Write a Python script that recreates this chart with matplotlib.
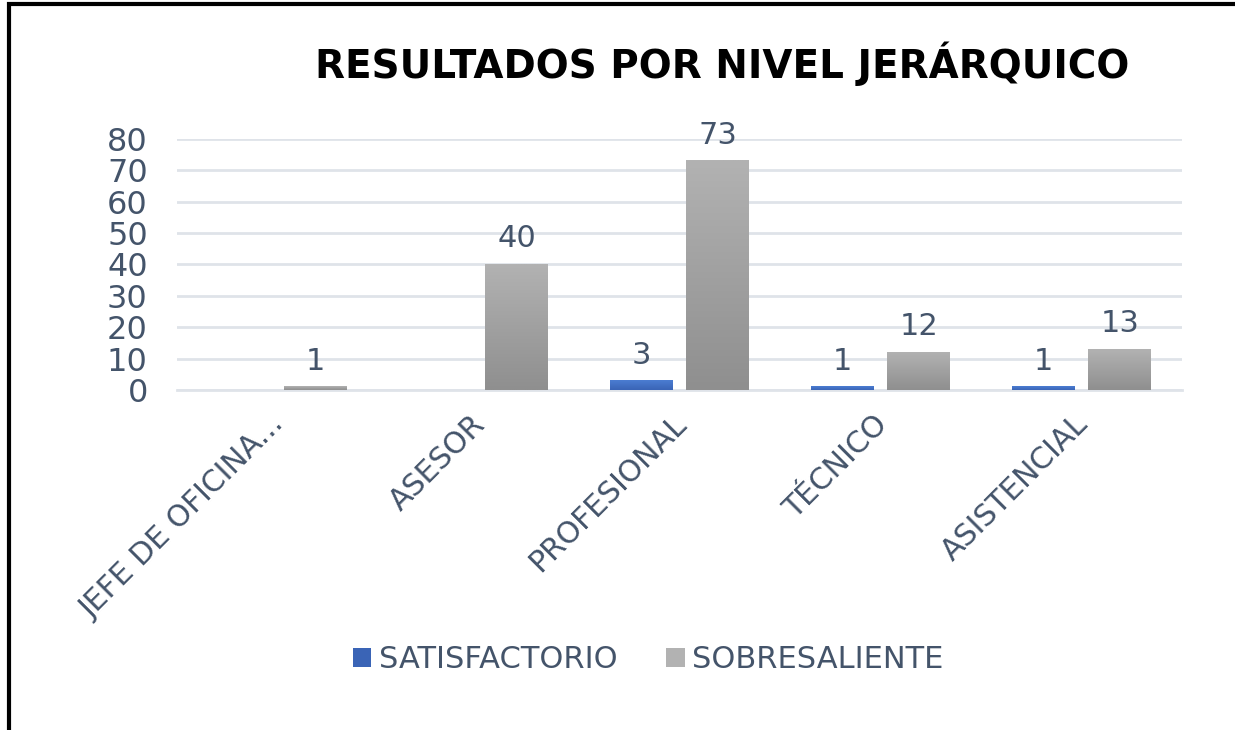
import numpy as np
import matplotlib.pyplot as plt
from matplotlib.patches import Patch

categorias = ['JEFE DE OFICINA...', 'ASESOR', 'PROFESIONAL', 'TÉCNICO', 'ASISTENCIAL']
satisfactorio = [0, 0, 3, 1, 1]
sobresaliente = [1, 40, 73, 12, 13]
series = ['SATISFACTORIO', 'SOBRESALIENTE']

texto = '#44546A'
# colores de degradado (arriba, abajo)
azul = ('#4b7dd2', '#3a64b6')
gris = ('#b2b2b2', '#8f8f8f')

fig = plt.figure(figsize=(12.35, 7.3), dpi=100)
ax = fig.add_axes([0.1433, 0.4658, 0.8138, 0.3438])

x = np.arange(len(categorias))
ancho = 0.313
desp = 0.19


def barra_degradado(ax, xc, h, colores):
    if h <= 0:
        return
    c1 = np.array(plt.matplotlib.colors.to_rgb(colores[0]))
    c2 = np.array(plt.matplotlib.colors.to_rgb(colores[1]))
    t = np.linspace(0, 1, 100)[:, None]
    grad = (c1 * (1 - t) + c2 * t)[:, None, :]
    ax.imshow(grad, extent=(xc - ancho / 2, xc + ancho / 2, 0, h),
              aspect='auto', zorder=3, interpolation='bilinear')


for i in range(len(categorias)):
    barra_degradado(ax, x[i] - desp, satisfactorio[i], azul)
    barra_degradado(ax, x[i] + desp, sobresaliente[i], gris)
    if satisfactorio[i] > 0:
        ax.text(x[i] - desp, satisfactorio[i] + 3.5, str(satisfactorio[i]),
                ha='center', va='bottom', fontsize=22, color=texto)
    ax.text(x[i] + desp, sobresaliente[i] + 3.5, str(sobresaliente[i]),
            ha='center', va='bottom', fontsize=22, color=texto)

ax.set_xlim(-0.5, len(categorias) - 0.5)
ax.set_ylim(0, 80)
ax.set_yticks(range(0, 81, 10))
ax.set_xticks(x - 0.04)
ax.set_xticklabels(categorias, rotation=45, ha='right', rotation_mode='anchor',
                   fontsize=21.5, color=texto)
ax.tick_params(axis='y', labelsize=23, labelcolor=texto, length=0, pad=21)
ax.tick_params(axis='x', length=0, pad=14)
ax.grid(axis='y', color='#dfe3e9', linewidth=2, zorder=0)
ax.set_axisbelow(True)
for s in ['top', 'right', 'left']:
    ax.spines[s].set_visible(False)
ax.spines['bottom'].set_color('#dfe3e9')
ax.spines['bottom'].set_linewidth(2)

fig.text(0.585, 0.912, 'RESULTADOS POR NIVEL JERÁRQUICO', ha='center', va='center',
         fontsize=28, fontweight='bold', color='black')

handles = [Patch(facecolor=azul[1]), Patch(facecolor=gris[0])]
fig.legend(handles, series, loc='center', bbox_to_anchor=(0.525, 0.096), ncol=2,
           frameon=False, fontsize=22, labelcolor=texto, handlelength=0.6,
           handleheight=0.6, handletextpad=0.25, columnspacing=1.6)

# marco exterior (el lado derecho queda fuera de la imagen)
marco = plt.Rectangle((0.0075, -0.05), 1.05, 1.045, transform=fig.transFigure,
                      fill=False, edgecolor='black', linewidth=3)
fig.patches.append(marco)

fig.savefig('out.png', dpi=100)
